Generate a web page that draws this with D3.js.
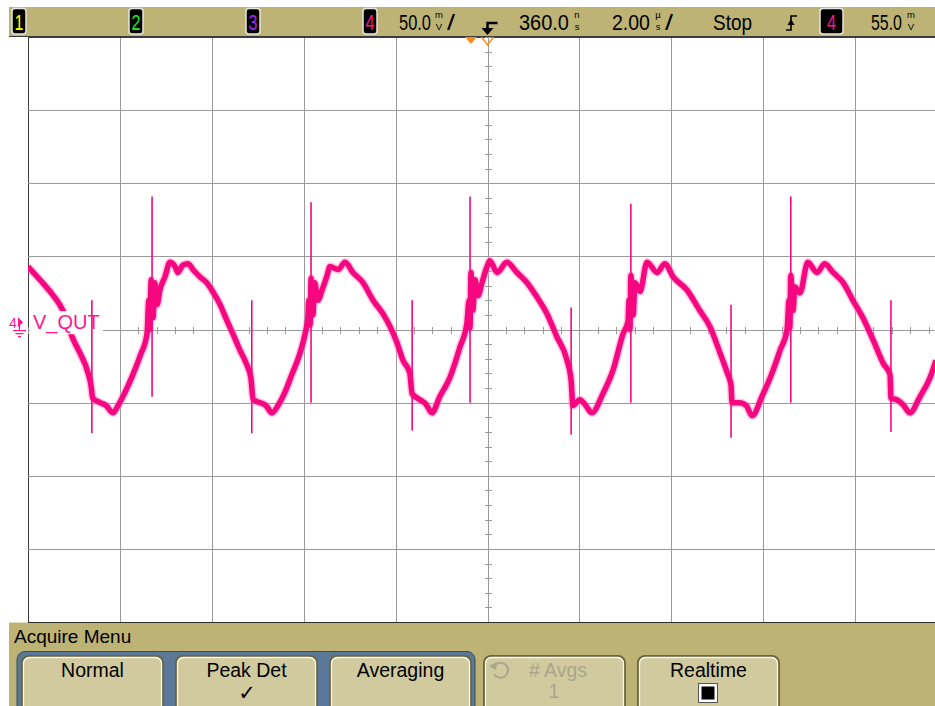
<!DOCTYPE html>
<html>
<head>
<meta charset="utf-8">
<script src="https://cdn.jsdelivr.net/npm/d3@7"></script>
<style>
  body { margin: 0; background: #fff; }
  svg { display: block; font-family: "Liberation Sans", Arial, sans-serif; }
</style>
</head>
<body>
<script>
// scope settings
const voltsPerDiv = 50;     // mV / div
const timePerDiv = 2;       // us / div
const delay = 0.36;         // us, screen centre relative to trigger
const centreVolts = -5;     // mV at screen centre (ground sits just above)
const trigLevel = 55;       // mV

const channelNames = ["1", "2", "3", "4"];
const channelColors = ["#ffff00", "#1eea1e", "#a028ff", "#ff158c"];
const menuTitle = "Acquire Menu";
const menuButtons = ["Normal", "Peak Det", "Averaging", "# Avgs", "Realtime"];
const traceLabel = "V_QUT";

// channel 4 trace, time in us (0 = trigger), level in mV
const traceTime = [
  -9.64, -9.38, -9.16, -8.95, -8.81, -8.68, -8.51, -8.34, -8.27, -8.23, -8.07, -7.94, -7.79, -7.68, -7.53,
  -7.36, -7.20, -7.05, -7.01, -6.99, -6.96, -6.92, -6.88, -6.83, -6.77, -6.66, -6.55, -6.44, -6.38, -6.27,
  -6.16, -6.05, -5.90, -5.75, -5.62, -5.46, -5.31, -5.18, -5.03, -4.88, -4.79, -4.74, -4.59, -4.46, -4.33,
  -4.20, -4.05, -3.90, -3.72, -3.61, -3.55, -3.53, -3.50, -3.48, -3.44, -3.40, -3.33, -3.24, -3.13, -3.07,
  -2.89, -2.74, -2.57, -2.35, -2.13, -1.92, -1.76, -1.61, -1.48, -1.33, -1.28, -1.11, -0.98, -0.85, -0.68,
  -0.46, -0.24, -0.09, -0.04, -0.02, 0.00, 0.04, 0.09, 0.15, 0.24, 0.35, 0.41, 0.57, 0.78, 1.00,
  1.22, 1.44, 1.65, 1.87, 2.09, 2.18, 2.22, 2.37, 2.50, 2.63, 2.87, 3.09, 3.31, 3.42, 3.44,
  3.46, 3.48, 3.53, 3.57, 3.68, 3.83, 4.05, 4.22, 4.40, 4.70, 4.98, 5.20, 5.42, 5.57, 5.66,
  5.68, 5.85, 5.99, 6.12, 6.33, 6.55, 6.73, 6.88, 6.90, 6.92, 6.94, 6.96, 7.01, 7.05, 7.16,
  7.33, 7.53, 7.70, 7.88, 8.10, 8.31, 8.53, 8.75, 8.97, 9.12, 9.14, 9.27, 9.42, 9.55, 9.77,
  9.99, 10.12
];
const traceVolts = [
  38, 29, 21, 12, 3, -10, -21, -34, -43, -52, -55, -57, -62, -57, -48,
  -36, -23, -8, 15, -5, 29, 3, 27, 12, 22, 31, 41, 38, 34, 39,
  40, 36, 31, 27, 21, 12, 1, -8, -19, -29, -38, -53, -55, -57, -62,
  -57, -48, -36, -21, -8, 3, 15, -2, 30, 5, 27, 15, 22, 32, 38,
  36, 41, 34, 27, 15, 6, -3, -14, -26, -35, -49, -53, -56, -62, -51,
  -38, -17, -1, 15, -4, 34, 8, 29, 18, 27, 38, 42, 34, 41, 34,
  27, 17, 6, -10, -26, -40, -57, -53, -57, -62, -49, -33, -8, 1, 15,
  -5, 32, 5, 27, 21, 41, 34, 40, 31, 22, 8, -3, -21, -34, -43,
  -55, -55, -57, -64, -51, -35, -19, -5, 5, 15, -4, 32, 8, 24, 20,
  41, 34, 40, 34, 27, 15, 3, -12, -28, -36, -52, -53, -57, -62, -51,
  -38, -26
];

// single-sample glitches captured by peak detect
const spikeTime = [-8.25, -6.94, -4.77, -3.48, -1.28, -0.02, 2.18, 3.48, 5.66, 6.96, 9.14];
const spikeLow = [-76, -51, -76, -55, -74, -55, -77, -55, -79, -55, -75];
const spikeHigh = [15, 86, 15, 82, 15, 86, 10, 81, 12, 86, 15];

const W = 935, H = 706;
const plot = { left: 28, right: 947, top: 37, bottom: 622 };

const svg = d3.select("body").append("svg")
  .attr("width", W)
  .attr("height", H);

const x = d3.scaleLinear()
  .domain([delay - 5 * timePerDiv, delay + 5 * timePerDiv])
  .range([plot.left, plot.right]);
const y = d3.scaleLinear()
  .domain([centreVolts - 4 * voltsPerDiv, centreVolts + 4 * voltsPerDiv])
  .range([plot.bottom, plot.top]);

const tan = "#bdb374";
const pink = channelColors[3];
const traceColor = "#f7077f";
const orange = "#ff8c1a";
const px = v => Math.round(v) + 0.5;

drawGraticule();
drawTrace();
drawTopBar();
drawMenu();

// grid, centre axes with minor ticks, trigger markers
function drawGraticule() {
  const g = svg.append("g");
  g.append("rect").attr("x", plot.left).attr("y", plot.top)
    .attr("width", W - plot.left).attr("height", plot.bottom - plot.top).attr("fill", "#fff");

  const vDivs = d3.range(-5, 6).map(k => delay + k * timePerDiv);
  const hDivs = d3.range(-4, 5).map(k => centreVolts + k * voltsPerDiv);

  g.selectAll(".vgrid").data(vDivs.filter(t => x(t) <= W)).enter().append("line")
    .attr("x1", d => px(x(d))).attr("x2", d => px(x(d)))
    .attr("y1", plot.top).attr("y2", plot.bottom)
    .attr("stroke", (d, i) => i === 0 ? "#3c3c3c" : "#9a9a9a").attr("stroke-width", 1);

  g.selectAll(".hgrid").data(hDivs).enter().append("line")
    .attr("x1", plot.left).attr("x2", W)
    .attr("y1", d => px(y(d))).attr("y2", d => px(y(d)))
    .attr("stroke", (d, i) => (i === 0 || i === 8) ? "#3c3c3c" : "#9a9a9a").attr("stroke-width", 1);

  // minor ticks on the centre lines
  const cx = px(x(delay)), cy = px(y(centreVolts));
  const vTicks = d3.range(-20, 21).map(j => centreVolts + j * voltsPerDiv / 5);
  const hTicks = d3.range(-25, 26).map(j => delay + j * timePerDiv / 5);
  g.selectAll(".vtick").data(vTicks).enter().append("line")
    .attr("x1", cx - 3.5).attr("x2", cx + 3.5)
    .attr("y1", d => px(y(d))).attr("y2", d => px(y(d)))
    .attr("stroke", "#9a9a9a");
  g.selectAll(".htick").data(hTicks.filter(t => x(t) <= W)).enter().append("line")
    .attr("x1", d => px(x(d))).attr("x2", d => px(x(d)))
    .attr("y1", cy - 3.5).attr("y2", cy + 3.5)
    .attr("stroke", "#9a9a9a");

  // trigger point (filled) and delay reference (hollow)
  const tx = x(0), dx = x(delay);
  g.append("path").attr("d", `M${tx - 6},${plot.top} L${tx + 6},${plot.top} L${tx},${plot.top + 7}Z`)
    .attr("fill", orange);
  g.append("path").attr("d", `M${dx - 6},${plot.top} L${dx},${plot.top + 8} L${dx + 6},${plot.top}`)
    .attr("fill", "none").attr("stroke", orange).attr("stroke-width", 1.5);
}

function drawTrace() {
  const pts = traceTime.map((t, i) => [t, traceVolts[i]]);
  const line = d3.line()
    .x(d => x(d[0]))
    .y(d => y(d[1]))
    .curve(d3.curveMonotoneX);

  svg.append("clipPath").attr("id", "clip").append("rect")
    .attr("x", plot.left).attr("y", plot.top)
    .attr("width", W - plot.left).attr("height", plot.bottom - plot.top);
  const g = svg.append("g").attr("clip-path", "url(#clip)");

  g.append("path").datum(pts).attr("d", line)
    .attr("fill", "none").attr("stroke", "#ff86c2").attr("stroke-width", 8.5)
    .attr("stroke-linejoin", "round").attr("opacity", 0.45);
  g.append("path").datum(pts).attr("d", line)
    .attr("fill", "none").attr("stroke", traceColor).attr("stroke-width", 5.5)
    .attr("stroke-linejoin", "round");

  // ground marker and label
  const gy = y(0);
  g.append("rect").attr("x", 30).attr("y", gy - 11).attr("width", 73).attr("height", 23).attr("fill", "#fff");
  svg.append("text").attr("x", 33).attr("y", gy + 7).attr("font-size", 20)
    .attr("fill", pink).text(traceLabel);
  svg.append("text").attr("x", 9).attr("y", gy + 6).attr("font-size", 14)
    .attr("fill", pink).text(channelNames[3]);
  svg.append("path").attr("d", `M18,${gy - 5} L23,${gy} L18,${gy + 5}Z`).attr("fill", pink);
  svg.append("path")
    .attr("d", `M19.5,${gy} V${gy + 8} M13,${gy + 8.5} H26 M15.5,${gy + 11.5} H23.5 M18,${gy + 14.5} H21`)
    .attr("stroke", pink).attr("stroke-width", 1.2).attr("fill", "none");

  g.selectAll(".spike").data(spikeTime).enter().append("line")
    .attr("x1", d => x(d)).attr("x2", d => x(d))
    .attr("y1", (d, i) => y(spikeHigh[i])).attr("y2", (d, i) => y(spikeLow[i]))
    .attr("stroke", traceColor).attr("stroke-width", 1.6);
}

function drawTopBar() {
  const g = svg.append("g");
  g.append("rect").attr("x", 9).attr("y", 7).attr("width", W - 9).attr("height", 29).attr("fill", tan);
  g.append("line").attr("x1", 9).attr("x2", W).attr("y1", 36.5).attr("y2", 36.5).attr("stroke", "#3c3c3c");

  const boxX = [12, 129, 246, 363];
  channelNames.forEach((name, i) => chanBox(g, boxX[i], 14, name, channelColors[i]));
  chanBox(g, 820, 23, channelNames[3], pink);

  readout(g, voltsPerDiv.toFixed(1), 399, 32);
  units(g, 434, "m", "V");
  readout(g, "/", 447, 8);
  readout(g, (delay * 1000).toFixed(1), 519, 50);
  units(g, 572, "n", "s");
  readout(g, timePerDiv.toFixed(2), 612, 38);
  units(g, 653, "\u00b5", "s");
  readout(g, "/", 665, 8);
  readout(g, "Stop", 713, 39);
  readout(g, trigLevel.toFixed(1), 871, 31);
  units(g, 906, "m", "V");

  // trigger position icon
  const dx = x(delay);
  g.append("path").attr("d", `M${dx + 10},23 H${dx} V29`).attr("fill", "none")
    .attr("stroke", "#000").attr("stroke-width", 2.5);
  g.append("path").attr("d", `M${dx - 6},28 H${dx + 6} L${dx},35Z`).attr("fill", "#000");

  // rising edge symbol
  g.append("path").attr("d", "M786,30 H791 V16 H797").attr("fill", "none")
    .attr("stroke", "#000").attr("stroke-width", 1.6);
  g.append("path").attr("d", "M787.5,25 L794.5,25 L791,19Z").attr("fill", "#000");
}

function chanBox(g, bx, w, label, color) {
  g.append("rect").attr("x", bx).attr("y", 8.5).attr("width", w).attr("height", 25.5).attr("rx", 3)
    .attr("fill", "#000").attr("stroke", "#e6e6e0").attr("stroke-width", 1.5);
  const t = g.append("text").attr("text-anchor", "middle")
    .attr("font-size", 22).attr("fill", color).text(label);
  const sx = 9 / t.node().getComputedTextLength();
  t.attr("transform", `translate(${bx + w / 2},30) scale(${sx},1)`);
}

// condensed readout text: squeeze to the given width
function readout(g, str, tx, len) {
  const t = g.append("text").attr("font-size", 22).attr("fill", "#000").text(str);
  const sx = len / t.node().getComputedTextLength();
  t.attr("transform", `translate(${tx},30) scale(${sx},1)`);
}

// small stacked unit letters, e.g. m over V
function units(g, ux, top, bottom) {
  g.append("text").attr("x", ux + 5).attr("y", 18).attr("font-size", 9.5).attr("text-anchor", "middle")
    .attr("fill", "#000").text(top);
  g.append("text").attr("x", ux + 5).attr("y", 29.5).attr("font-size", 9.5).attr("text-anchor", "middle")
    .attr("fill", "#000").text(bottom);
}

function drawMenu() {
  const g = svg.append("g");
  g.append("rect").attr("x", 9).attr("y", plot.bottom + 0.5).attr("width", W - 9).attr("height", H - plot.bottom)
    .attr("fill", tan);
  g.append("line").attr("x1", 28).attr("x2", W).attr("y1", 622.5).attr("y2", 622.5).attr("stroke", "#2a2a2a");
  g.append("text").attr("x", 14).attr("y", 643).attr("font-size", 19).attr("fill", "#000").text(menuTitle);

  // selection group behind the first three keys
  g.append("rect").attr("x", 17).attr("y", 651.5).attr("width", 458).attr("height", 70).attr("rx", 8)
    .attr("fill", "#5b7898").attr("stroke", "#3e4c58").attr("stroke-width", 1);

  const keyX = [22, 176, 330, 484, 638];
  menuButtons.forEach((label, i) => {
    const kx = keyX[i];
    const off = i === 3;
    g.append("rect").attr("x", kx).attr("y", 656).attr("width", 141).attr("height", 64).attr("rx", 7)
      .attr("fill", "#d0ca9e").attr("stroke", "#6b6540").attr("stroke-width", 2);
    g.append("rect").attr("x", kx + 1.5).attr("y", 657.5).attr("width", 138).attr("height", 64).attr("rx", 6)
      .attr("fill", "none").attr("stroke", "#fbf8ea").attr("stroke-width", 1.3);
    g.append("text").attr("x", off ? kx + 74 : kx + 70.5).attr("y", 677).attr("text-anchor", "middle")
      .attr("font-size", 19.5).attr("fill", off ? "#aaa58a" : "#000").text(label);
  });

  // Peak Det is the active mode
  g.append("text").attr("x", 247).attr("y", 700).attr("text-anchor", "middle")
    .attr("font-family", "DejaVu Sans").attr("font-size", 21).attr("fill", "#000").text("\u2713");

  // disabled # Avgs key: rotate icon and value
  g.append("path").attr("d", "M495,665 A7.5,7.5 0 1 1 494,674").attr("fill", "none")
    .attr("stroke", "#aaa58a").attr("stroke-width", 2);
  g.append("path").attr("d", "M489,666 L497,662 L496,670Z").attr("fill", "#aaa58a");
  g.append("text").attr("x", 554).attr("y", 698).attr("text-anchor", "middle")
    .attr("font-size", 19.5).attr("fill", "#aaa58a").text("1");

  // Realtime checkbox
  g.append("rect").attr("x", 698.5).attr("y", 683.5).attr("width", 19).attr("height", 19)
    .attr("fill", "#fff").attr("stroke", "#555");
  g.append("rect").attr("x", 701.5).attr("y", 686.5).attr("width", 13).attr("height", 13).attr("fill", "#000");
}
</script>
</body>
</html>
